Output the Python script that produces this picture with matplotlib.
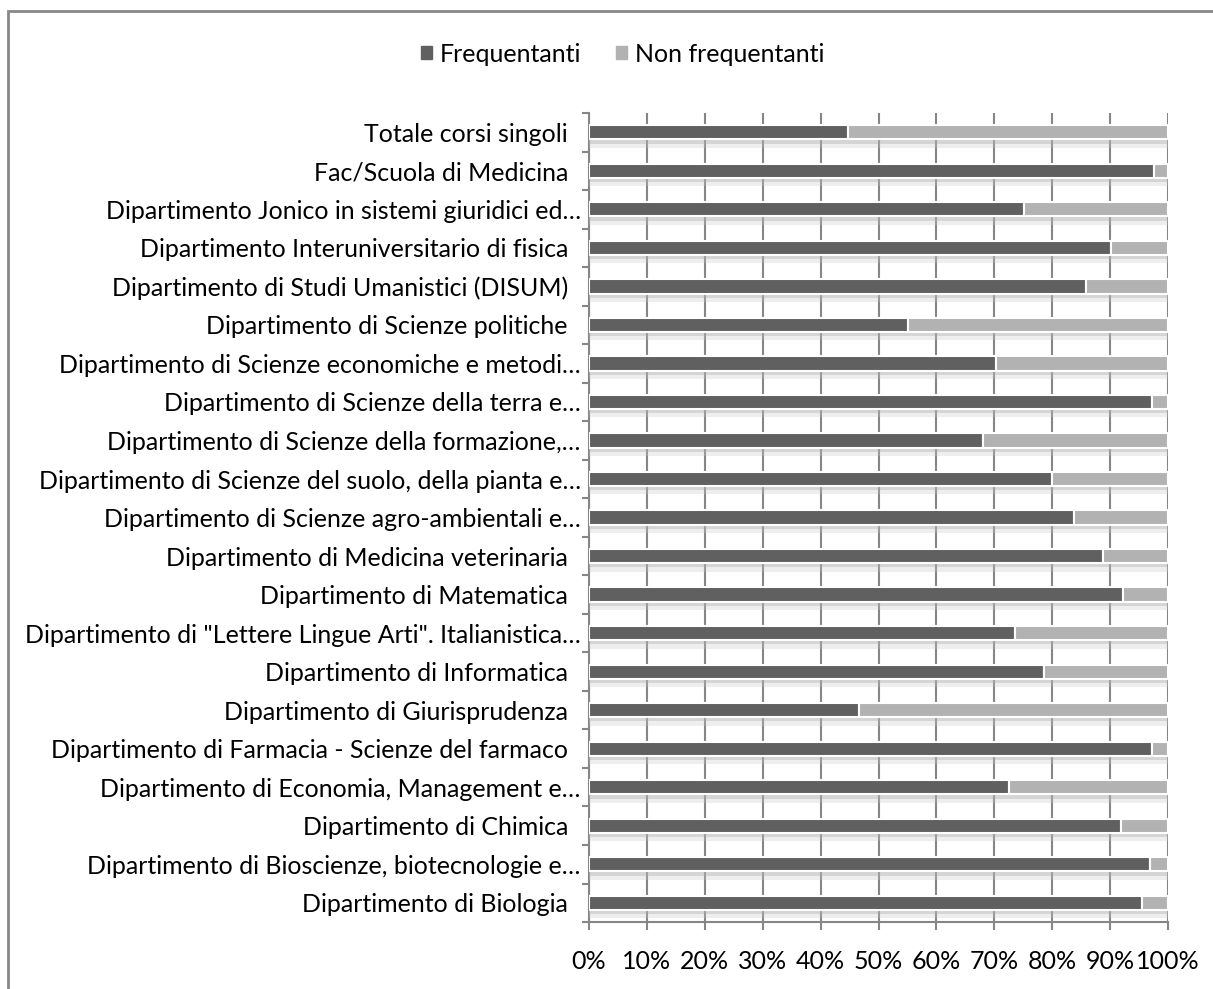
import matplotlib.pyplot as plt
import matplotlib.patheffects as pe
from matplotlib.patches import Patch, Rectangle
from matplotlib.ticker import PercentFormatter
import numpy as np

plt.rcParams['font.family'] = ['Lato', 'DejaVu Sans']

# categories, bottom to top as drawn
categorie = [
    "Dipartimento di Biologia  ",
    "Dipartimento di Bioscienze, biotecnologie e…",
    "Dipartimento di Chimica  ",
    "Dipartimento di Economia, Management e…",
    "Dipartimento di Farmacia - Scienze del farmaco  ",
    "Dipartimento di Giurisprudenza  ",
    "Dipartimento di Informatica  ",
    "Dipartimento di \"Lettere Lingue Arti\". Italianistica…",
    "Dipartimento di Matematica  ",
    "Dipartimento di Medicina veterinaria  ",
    "Dipartimento di Scienze agro-ambientali e…",
    "Dipartimento di Scienze del suolo, della pianta e…",
    "Dipartimento di Scienze della formazione,…",
    "Dipartimento di Scienze della terra e…",
    "Dipartimento di Scienze economiche e metodi…",
    "Dipartimento di Scienze politiche  ",
    "Dipartimento di Studi Umanistici (DISUM)  ",
    "Dipartimento Interuniversitario di fisica  ",
    "Dipartimento Jonico in sistemi giuridici ed…",
    "Fac/Scuola di Medicina  ",
    "Totale corsi singoli  ",
]

# share of attending students (%)
frequentanti = [95.5, 96.8, 91.9, 72.5, 97.3, 46.7, 78.5, 73.5, 92.2, 88.8,
                83.7, 80.0, 68.1, 97.3, 70.3, 55.1, 85.9, 90.1, 75.1, 97.5, 44.7]
non_frequentanti = [100 - v for v in frequentanti]

COL_F = '#606060'
COL_NF = '#b2b2b2'
GRID = '#868686'

fig = plt.figure(figsize=(12.13, 9.89), dpi=100)
ax = fig.add_axes([0.4856, 0.0677, 0.963 - 0.4856, 0.8857 - 0.0677])

# frame around the chart area (only left/top visible in the original)
fig.patches.append(Rectangle((8 / 1213, -0.05), 1.2, 1 - 11 / 989 + 0.05,
                             transform=fig.transFigure, fill=False,
                             edgecolor='#888888', linewidth=2, zorder=0))

y = np.arange(len(categorie))
shadow = [pe.SimplePatchShadow(offset=(0, -3), shadow_rgbFace='#9a9a9a', alpha=0.35),
          pe.SimplePatchShadow(offset=(0, -6), shadow_rgbFace='#c8c8c8', alpha=0.3),
          pe.Normal()]

b1 = ax.barh(y, frequentanti, height=0.37, color=COL_F, edgecolor='white',
             linewidth=1.5, zorder=3, label='Frequentanti')
b2 = ax.barh(y, non_frequentanti, left=frequentanti, height=0.37, color=COL_NF,
             edgecolor='white', linewidth=1.5, zorder=3, label='Non frequentanti')
for bar in list(b1) + list(b2):
    bar.set_path_effects(shadow)

ax.set_xlim(0, 100)
ax.set_ylim(-0.5, len(categorie) - 0.5)
ax.set_xticks(np.arange(0, 101, 10))
ax.xaxis.set_major_formatter(PercentFormatter(decimals=0))
ax.set_yticks(y)
ax.set_yticklabels(categorie)
ax.set_yticks(np.arange(-0.5, len(categorie), 1), minor=True)

ax.grid(axis='x', color=GRID, linewidth=1.5, zorder=1)
for s in ['top', 'right']:
    ax.spines[s].set_visible(False)
for s in ['left', 'bottom']:
    ax.spines[s].set_color(GRID)
    ax.spines[s].set_linewidth(1.5)

ax.tick_params(axis='y', which='major', length=0, pad=6, labelsize=18)
ax.tick_params(axis='y', which='minor', length=5, width=1.5, color=GRID, direction='out')
ax.tick_params(axis='x', which='major', length=6, width=1.5, color=GRID,
               pad=14, labelsize=18)

handles = [Patch(color=COL_F, label='Frequentanti'),
           Patch(color=COL_NF, label='Non frequentanti')]
fig.legend(handles=handles, loc='center', bbox_to_anchor=(0.513, 1 - 54 / 989),
           ncol=2, frameon=False, fontsize=18, handlelength=0.45, handleheight=0.45,
           handletextpad=0.3, columnspacing=1.4)

fig.savefig('out.png', dpi=100)
